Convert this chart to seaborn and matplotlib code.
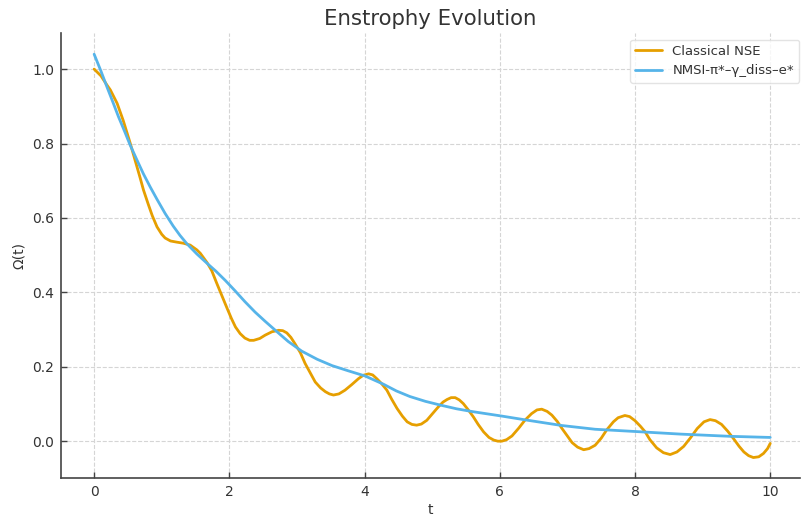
import matplotlib
matplotlib.use("Agg")
import matplotlib.pyplot as plt
import seaborn as sns
import pandas as pd

# --- data ---
t_classical = [0.00, 0.10, 0.19, 0.24, 0.34, 0.43, 0.53, 0.63, 0.68, 0.73,
               0.80, 0.86, 0.93, 1.00, 1.05, 1.13, 1.22, 1.32, 1.42, 1.52,
               1.57, 1.67, 1.74, 1.81, 1.88, 1.96, 2.03, 2.09, 2.16, 2.23,
               2.30, 2.36, 2.45, 2.53, 2.63, 2.73, 2.79, 2.85, 2.91, 2.97,
               3.05, 3.12, 3.20, 3.27, 3.35, 3.42, 3.48, 3.54, 3.62, 3.71,
               3.81, 3.91, 3.98, 4.06, 4.12, 4.18, 4.25, 4.33, 4.40, 4.48,
               4.56, 4.63, 4.70, 4.77, 4.84, 4.92, 5.00, 5.09, 5.16, 5.22,
               5.28, 5.34, 5.40, 5.46, 5.53, 5.61, 5.68, 5.76, 5.84, 5.91,
               5.97, 6.03, 6.10, 6.18, 6.28, 6.37, 6.47, 6.55, 6.62, 6.70,
               6.77, 6.85, 6.92, 7.00, 7.07, 7.15, 7.24, 7.32, 7.41, 7.50,
               7.58, 7.68, 7.75, 7.85, 7.92, 8.00, 8.08, 8.15, 8.22, 8.32,
               8.42, 8.52, 8.62, 8.72, 8.82, 8.92, 9.02, 9.11, 9.19, 9.28,
               9.37, 9.46, 9.54, 9.61, 9.68, 9.75, 9.83, 9.90, 9.96, 10.00]
omega_classical = [1.000, 0.982, 0.957, 0.944, 0.908, 0.862, 0.803, 0.740, 0.708, 0.675,
                   0.637, 0.606, 0.576, 0.556, 0.546, 0.538, 0.535, 0.532, 0.527, 0.514,
                   0.505, 0.480, 0.458, 0.426, 0.395, 0.360, 0.330, 0.307, 0.289, 0.277,
                   0.271, 0.271, 0.276, 0.285, 0.294, 0.298, 0.297, 0.291, 0.279, 0.262,
                   0.238, 0.209, 0.182, 0.159, 0.143, 0.133, 0.127, 0.124, 0.127, 0.137,
                   0.152, 0.168, 0.177, 0.181, 0.178, 0.168, 0.155, 0.137, 0.113, 0.088,
                   0.067, 0.052, 0.045, 0.043, 0.046, 0.056, 0.073, 0.092, 0.105, 0.112,
                   0.117, 0.117, 0.111, 0.101, 0.085, 0.065, 0.045, 0.025, 0.010, 0.003,
                   0.000, 0.000, 0.004, 0.014, 0.035, 0.056, 0.074, 0.084, 0.086, 0.080,
                   0.070, 0.053, 0.034, 0.014, -0.004, -0.016, -0.023, -0.020, -0.011, 0.008,
                   0.030, 0.052, 0.063, 0.069, 0.066, 0.055, 0.040, 0.025, 0.004, -0.018,
                   -0.031, -0.036, -0.029, -0.014, 0.009, 0.034, 0.052, 0.058, 0.055, 0.045,
                   0.027, 0.006, -0.014, -0.029, -0.039, -0.044, -0.042, -0.033, -0.020, -0.006]

t_nmsi = [0.00, 0.10, 0.19, 0.28, 0.36, 0.45, 0.53, 0.63, 0.73, 0.83,
          0.93, 1.05, 1.17, 1.27, 1.37, 1.52, 1.67, 1.80, 1.94, 2.08,
          2.23, 2.38, 2.53, 2.68, 2.87, 3.07, 3.30, 3.52, 3.76, 4.01,
          4.28, 4.47, 4.67, 4.90, 5.12, 5.36, 5.61, 6.01, 6.42, 6.92,
          7.41, 8.00, 8.67, 9.41, 10.00]
omega_nmsi = [1.040, 0.995, 0.952, 0.910, 0.872, 0.833, 0.797, 0.757, 0.718, 0.683,
              0.650, 0.612, 0.578, 0.553, 0.531, 0.503, 0.478, 0.457, 0.432, 0.405,
              0.375, 0.347, 0.322, 0.298, 0.268, 0.242, 0.220, 0.203, 0.189, 0.175,
              0.153, 0.135, 0.120, 0.107, 0.097, 0.087, 0.079, 0.068, 0.056, 0.042,
              0.032, 0.026, 0.019, 0.013, 0.010]

series_names = ["Classical NSE", "NMSI-π*–γ_diss–e*"]
series_colors = ["#E69F00", "#56B4E9"]

df = pd.concat([
    pd.DataFrame({"t": t_classical, "omega": omega_classical, "series": series_names[0]}),
    pd.DataFrame({"t": t_nmsi, "omega": omega_nmsi, "series": series_names[1]}),
], ignore_index=True)

sns.set_theme(style="white")
plt.rcParams["font.family"] = ["DejaVu Sans"]

fig = plt.figure(figsize=(8.02, 5.19), dpi=100)
ax = fig.add_axes([61 / 802, 41 / 519, 739 / 802, 445 / 519])

sns.lineplot(data=df, x="t", y="omega", hue="series", palette=series_colors,
             hue_order=series_names, sort=False, estimator=None, linewidth=2, ax=ax)
for line in ax.get_lines():
    line.set_solid_joinstyle("round")
    line.set_solid_capstyle("round")

ax.set_xlim(-0.49, 10.44)
ax.set_ylim(-0.099, 1.097)
ax.set_xticks([0, 2, 4, 6, 8, 10])
ax.set_yticks([0.0, 0.2, 0.4, 0.6, 0.8, 1.0])
ax.yaxis.set_major_formatter(matplotlib.ticker.FormatStrFormatter("%.1f"))

ax.grid(True, linestyle="--", color="#d5d5d5", linewidth=0.8)
for s in ["top", "right"]:
    ax.spines[s].set_visible(False)
for s in ["left", "bottom"]:
    ax.spines[s].set_color("#444444")
    ax.spines[s].set_linewidth(1.2)

ax.tick_params(axis="both", direction="in", length=4, width=1, color="#444444",
               labelsize=10, labelcolor="#333333", pad=5, left=True, bottom=True)

ax.set_title("Enstrophy Evolution", fontsize=15.3, color="#333333", pad=6)
ax.set_xlabel("t", fontsize=10, color="#333333", labelpad=3)
ax.set_ylabel("Ω(t)", fontsize=10, color="#333333", labelpad=4)

leg = ax.legend(loc="upper right", fontsize=9.5, frameon=True, fancybox=True,
                edgecolor="#dddddd", bbox_to_anchor=(1.008, 1.0))
for txt in leg.get_texts():
    txt.set_color("#333333")

fig.savefig("out.png", dpi=100)
